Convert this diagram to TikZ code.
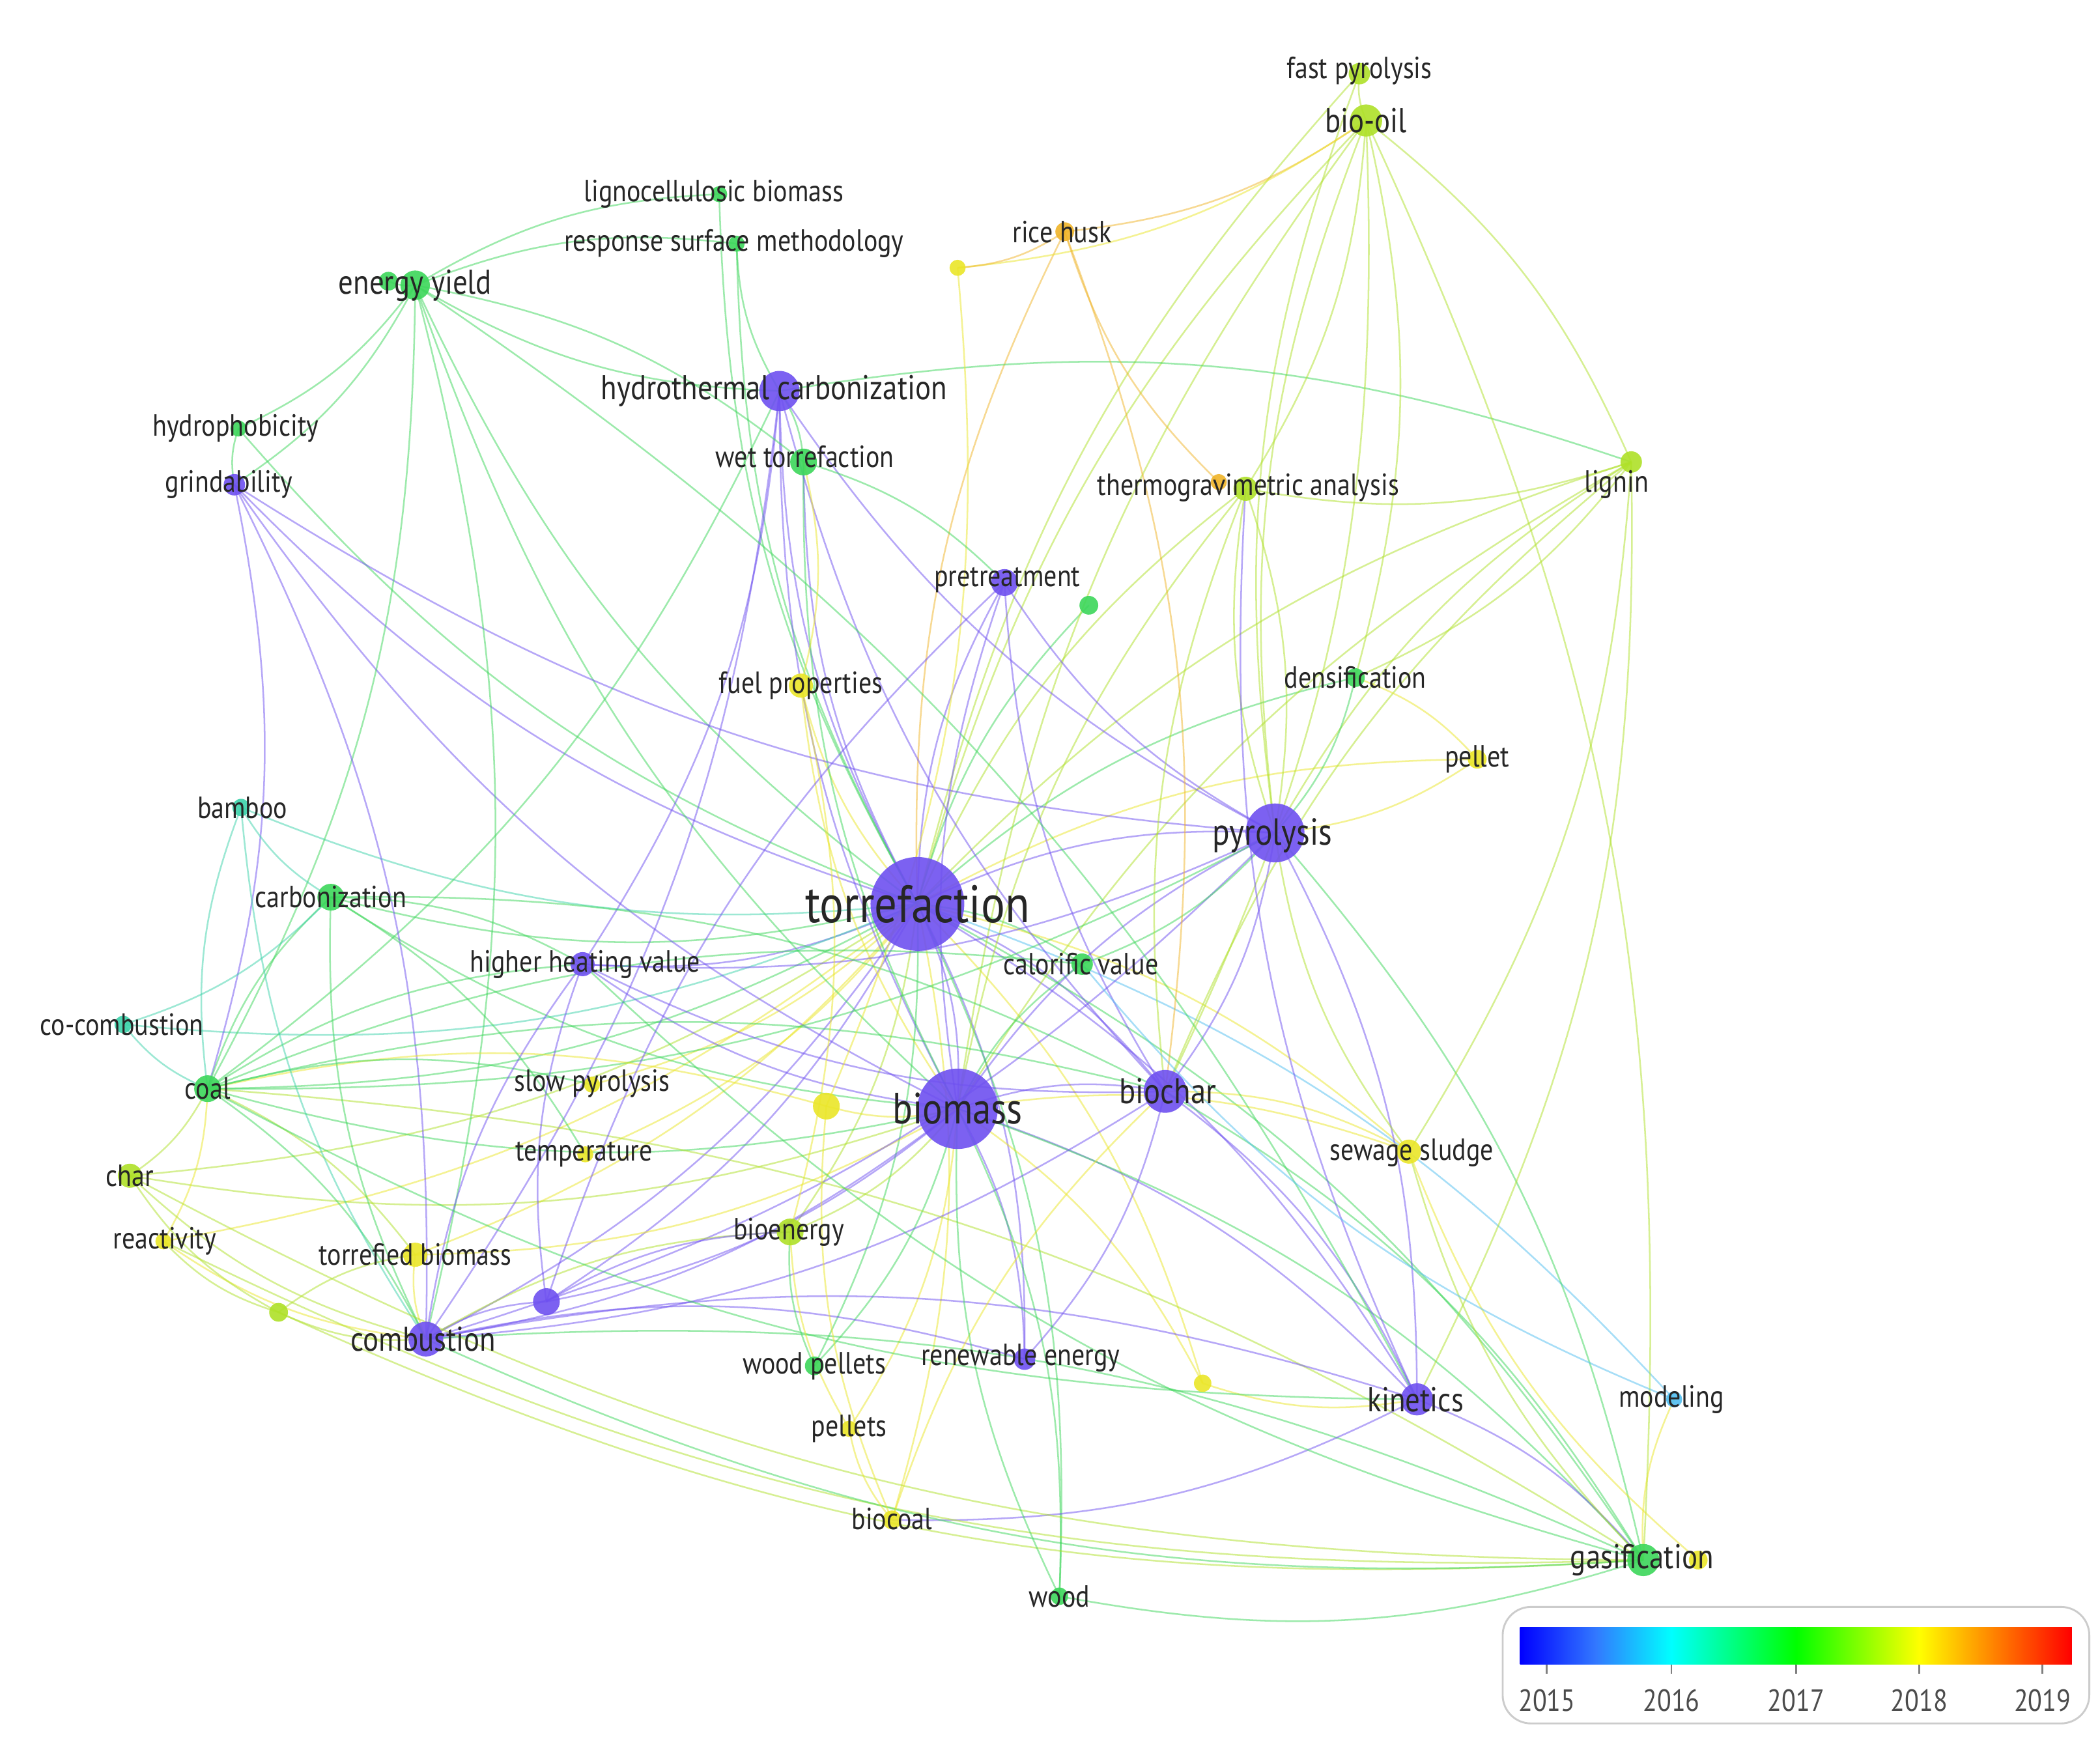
\documentclass[tikz,border=0pt]{standalone}
\usepackage{fontspec}
\setmainfont{PT Sans}
\newcommand{\sq}[1]{\scalebox{0.85}[1]{#1}}
\begin{document}
\begin{tikzpicture}[x=0.01cm,y=-0.01cm,
 dot/.style={circle,fill=#1,inner sep=0pt,draw=none},
 lab/.style={font=\fontsize{6.5}{7}\selectfont,text=black!85,inner sep=0pt},
 big/.style={font=\fontsize{7.3}{8}\selectfont,text=black!85,inner sep=0pt},
 e/.style={draw=#1,opacity=0.5,line width=0.35pt}]
\definecolor{pu}{RGB}{110,80,240}\definecolor{gr}{RGB}{60,215,90}
\definecolor{yg}{RGB}{175,225,40}\definecolor{ye}{RGB}{235,230,40}
\definecolor{te}{RGB}{60,210,170}\definecolor{or}{RGB}{240,180,40}
\definecolor{lb}{RGB}{80,190,240}
\useasboundingbox (0,0) rectangle (1568,1305);
\fill[white] (0,0) rectangle (1568,1305);
\foreach \n/\x/\y/\c/\s in {torr/685/675/pu/70,biom/715/828/pu/60,pyro/952/622/pu/44,bchar/870/815/pu/32,
 hydro/582/292/pu/30,wet/600/345/gr/20,pretr/750/435/pu/20,fuelp/598/512/ye/18,ey/310/213/gr/22,ey2/290/210/gr/14,
 ligno/537/145/gr/12,rsm/550/182/gr/12,hydrop/178/320/gr/12,grind/175/362/pu/16,fastp/1015/55/yg/16,
 biooil/1020/90/yg/24,rice/795/173/or/14,y1/715/200/ye/12,lignin/1218/345/yg/16,thermo/930/365/yg/18,
 th2/910/360/or/12,g1/813/452/gr/14,dens/1012/506/gr/14,pellet/1103/567/ye/14,bamboo/180/603/te/13,
 carb/247/670/gr/20,hhv/435/720/pu/18,calv/808/720/gr/16,cocomb/92/765/te/13,coal/155/813/gr/20,
 slowp/442/810/ye/12,y2/617/826/ye/20,temp/437/862/ye/12,char/97/878/yg/18,sew/1052/860/ye/18,
 react/122/927/ye/12,torrb/310/937/ye/18,bioe/590/920/yg/20,p2/408/972/pu/20,yg2/208/980/yg/14,
 comb/318/1000/pu/26,woodp/608/1020/gr/14,renew/765/1015/pu/16,y3/898/1033/ye/13,kin/1058/1045/pu/24,
 model/1250/1045/lb/12,pellets/634/1067/ye/12,biocoal/666/1135/ye/14,wood/791/1192/gr/13,gas/1227/1165/gr/24,gas2/1268/1165/ye/14}
 {\coordinate (\n) at (\x,\y);}
\foreach \a/\b/\c in {torr/hydro/pu,torr/wet/pu,torr/pretr/pu,torr/fuelp/ye,torr/ey/gr,torr/grind/pu,torr/hydrop/gr,torr/pyro/pu,torr/bchar/pu,torr/biom/pu,torr/hhv/pu,torr/calv/gr,torr/coal/gr,torr/comb/pu,torr/kin/pu,torr/gas/gr,torr/bioe/yg,torr/torrb/ye,torr/renew/pu,torr/carb/gr,torr/bamboo/te,torr/cocomb/te,torr/lignin/yg,torr/biooil/yg,torr/thermo/yg,torr/dens/gr,torr/pellet/ye,torr/sew/ye,torr/biocoal/ye,torr/wood/gr,torr/woodp/gr,torr/model/lb,torr/char/yg,torr/react/ye,torr/temp/ye,torr/slowp/ye,torr/rsm/gr,torr/ligno/gr,torr/rice/or,torr/fastp/yg,torr/g1/gr,torr/y3/ye,torr/p2/pu,
 biom/pyro/pu,biom/bchar/pu,biom/hydro/pu,biom/pretr/pu,biom/comb/pu,biom/kin/pu,biom/gas/gr,biom/coal/gr,biom/hhv/pu,biom/renew/pu,biom/bioe/yg,biom/grind/pu,biom/ey/gr,biom/wet/gr,biom/thermo/yg,biom/lignin/yg,biom/biooil/yg,biom/woodp/gr,biom/pellets/ye,biom/wood/gr,biom/p2/pu,biom/y3/ye,biom/sew/ye,biom/carb/gr,biom/char/yg,biom/torrb/ye,biom/calv/gr,biom/y2/ye,biom/fuelp/ye,
 pyro/bchar/pu,pyro/kin/pu,pyro/biooil/yg,pyro/lignin/yg,pyro/thermo/yg,pyro/hydro/pu,pyro/comb/pu,pyro/coal/gr,pyro/hhv/pu,pyro/gas/gr,pyro/pretr/pu,pyro/fastp/yg,pyro/grind/pu,pyro/calv/gr,
 bchar/hydro/pu,bchar/kin/pu,bchar/renew/pu,bchar/sew/ye,bchar/pretr/pu,bchar/thermo/yg,bchar/gas/gr,bchar/hhv/pu,bchar/comb/pu,bchar/lignin/yg,
 hydro/wet/gr,hydro/ey/gr,hydro/rsm/gr,hydro/hhv/pu,hydro/comb/pu,hydro/lignin/gr,hydro/coal/gr,
 ey/ey2/gr,ey/rsm/gr,ey/ligno/gr,ey/hydrop/gr,ey/grind/gr,ey/coal/gr,ey/comb/gr,ey/wet/gr,ey/kin/gr,
 grind/comb/pu,grind/coal/pu,grind/hydrop/gr,
 coal/comb/gr,coal/char/yg,coal/cocomb/te,coal/carb/gr,coal/bamboo/te,coal/react/ye,coal/torrb/yg,coal/hhv/gr,coal/gas/yg,coal/y2/ye,coal/calv/gr,coal/bchar/gr,coal/slowp/gr,
 comb/char/yg,comb/carb/gr,comb/hhv/pu,comb/torrb/ye,comb/p2/pu,comb/kin/pu,comb/gas/gr,comb/yg2/yg,comb/bamboo/te,comb/renew/pu,comb/bioe/yg,comb/react/ye,
 carb/bamboo/te,carb/hhv/gr,carb/cocomb/te,carb/temp/gr,carb/bchar/gr,
 biooil/fastp/yg,biooil/lignin/yg,biooil/rice/or,biooil/thermo/yg,biooil/y1/ye,biooil/gas/yg,biooil/bchar/yg,biooil/dens/yg,
 rice/y1/or,rice/bchar/or,y1/y2/ye,lignin/thermo/yg,lignin/dens/yg,lignin/sew/yg,lignin/kin/yg,
 kin/gas/pu,kin/thermo/pu,kin/biocoal/pu,kin/y3/ye,kin/coal/gr,gas/wood/gr,gas/char/yg,gas/react/yg,gas/yg2/yg,gas/sew/yg,gas/model/ye,gas2/sew/ye,gas/comb/gr,gas/hhv/gr,
 model/calv/lb,biocoal/pellets/ye,biocoal/bchar/ye,biocoal/y2/ye,woodp/bioe/gr,pellets/bioe/ye,wood/biom/gr,
 yg2/char/yg,yg2/react/yg,yg2/torrb/yg,p2/hhv/pu,p2/pretr/pu,p2/bioe/pu,wet/fuelp/ye,wet/pretr/gr,fuelp/bioe/ye,dens/pellet/ye,dens/pyro/gr,pellet/pyro/ye,sew/pyro/yg,thermo/pyro/yg,th2/rice/or}
 {\path[e=\c] (\a) to[bend left=14] (\b);}
\foreach \n/\x/\y/\c/\s in {torr/685/675/pu/70,biom/715/828/pu/60,pyro/952/622/pu/44,bchar/870/815/pu/32,
 hydro/582/292/pu/30,wet/600/345/gr/20,pretr/750/435/pu/20,fuelp/598/512/ye/18,ey/310/213/gr/22,ey2/290/210/gr/14,
 ligno/537/145/gr/12,rsm/550/182/gr/12,hydrop/178/320/gr/12,grind/175/362/pu/16,fastp/1015/55/yg/16,
 biooil/1020/90/yg/24,rice/795/173/or/14,y1/715/200/ye/12,lignin/1218/345/yg/16,thermo/930/365/yg/18,
 th2/910/360/or/12,g1/813/452/gr/14,dens/1012/506/gr/14,pellet/1103/567/ye/14,bamboo/180/603/te/13,
 carb/247/670/gr/20,hhv/435/720/pu/18,calv/808/720/gr/16,cocomb/92/765/te/13,coal/155/813/gr/20,
 slowp/442/810/ye/12,y2/617/826/ye/20,temp/437/862/ye/12,char/97/878/yg/18,sew/1052/860/ye/18,
 react/122/927/ye/12,torrb/310/937/ye/18,bioe/590/920/yg/20,p2/408/972/pu/20,yg2/208/980/yg/14,
 comb/318/1000/pu/26,woodp/608/1020/gr/14,renew/765/1015/pu/16,y3/898/1033/ye/13,kin/1058/1045/pu/24,
 model/1250/1045/lb/12,pellets/634/1067/ye/12,biocoal/666/1135/ye/14,wood/791/1192/gr/13,gas/1227/1165/gr/24,gas2/1268/1165/ye/14}
 {\node[dot=\c,minimum size=\s*0.01cm,opacity=0.9] (n\n) at (\n) {};}
\node[font=\fontsize{11.2}{12}\selectfont,text=black!85] (ltorr) at (685,675) {\sq{torrefaction}};
\node[font=\fontsize{9.3}{10}\selectfont,text=black!85] (lbiom) at (715,828) {\sq{biomass}};
\node[font=\fontsize{8}{9}\selectfont,text=black!85] (lpyro) at (950,624) {\sq{pyrolysis}};
\node[font=\fontsize{7.6}{8}\selectfont,text=black!85] (lbchar) at (872,815) {\sq{biochar}};
\node[big] (lhydro) at (578,292) {\sq{hydrothermal carbonization}};
\node[big] (ley) at (310,213) {\sq{energy yield}};
\node[big] (lbiooil) at (1020,90) {\sq{bio-oil}};
\node[big] (lcomb) at (316,1000) {\sq{combustion}};
\node[big] (lkin) at (1057,1045) {\sq{kinetics}};
\node[big] (lgas) at (1226,1165) {\sq{gasification}};
\node[lab] (lcarb) at (247,670) {\sq{carbonization}};
\foreach \n/\x/\y/\t in {wet/601/341/wet torrefaction,pretr/752/433/pretreatment,fuelp/598/512/fuel properties,
 ligno/533/145/lignocellulosic biomass,rsm/548/182/response surface methodology,hydrop/176/320/hydrophobicity,
 grind/171/362/grindability,fastp/1015/53/fast pyrolysis,rice/793/173/rice husk,lignin/1207/362/lignin,
 thermo/932/364/thermogravimetric analysis,dens/1012/506/densification,pellet/1103/567/pellet,bamboo/181/603/bamboo,
 hhv/437/720/higher heating value,calv/807/720/calorific value,cocomb/91/765/co-combustion,coal/155/813/coal,
 slowp/442/809/slow pyrolysis,temp/436/862/temperature,char/97/878/char,sew/1054/861/sewage sludge,
 react/123/927/reactivity,torrb/310/937/torrefied biomass,bioe/589/920/bioenergy,woodp/608/1020/wood pellets,
 renew/762/1014/renewable energy,model/1248/1045/modeling,pellets/634/1067/pellets,biocoal/666/1134/biocoal,wood/791/1192/wood}
 {\node[lab] (l\n) at (\x,\y) {\sq{\t}};}
\draw[black!20,rounded corners=6pt] (1122,1200) rectangle (1560,1287);
\shade[left color=blue,right color=cyan,middle color={rgb,255:red,50;green,120;blue,255}] (1135,1215) rectangle (1248,1243);
\shade[left color=cyan,right color=green] (1248,1215) rectangle (1341,1243);
\shade[left color=green,right color=yellow] (1341,1215) rectangle (1433,1243);
\shade[left color=yellow,right color=red] (1433,1215) rectangle (1547,1243);
\foreach \x/\t in {1155/2015,1248/2016,1341/2017,1433/2018,1525/2019}{
 \draw[black!50] (\x,1243) -- (\x,1250);
 \node[lab,text=black!70] (y\t) at (\x,1270) {\sq{\t}};}
\end{tikzpicture}
\end{document}
